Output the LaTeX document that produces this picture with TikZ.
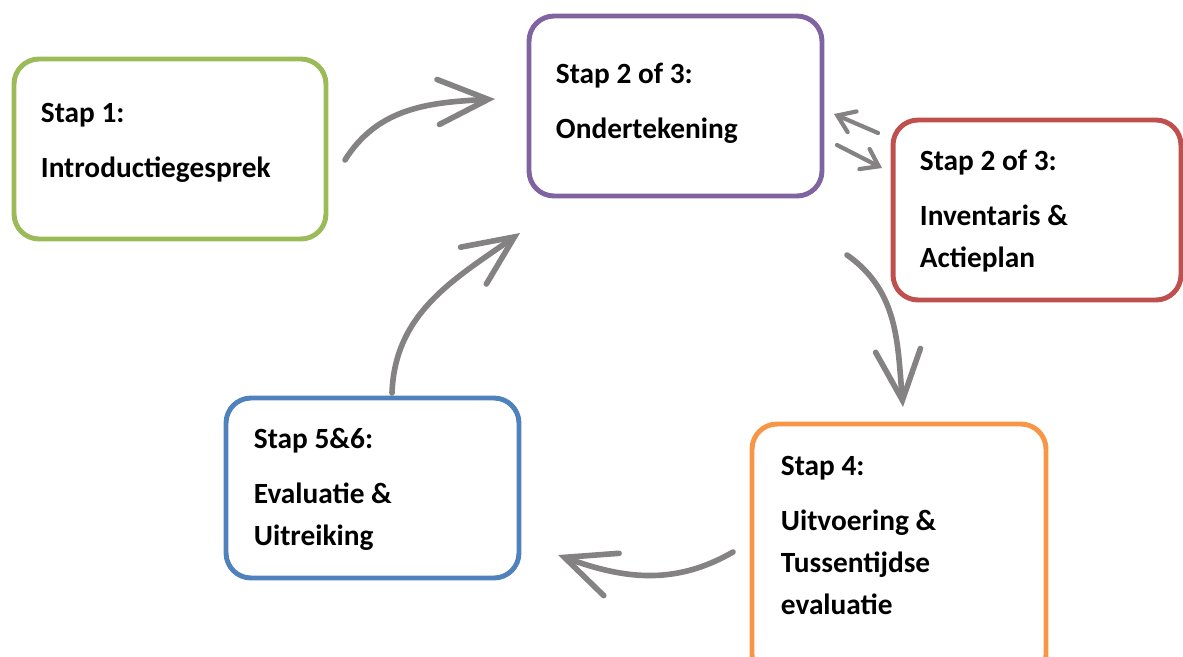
\documentclass[tikz,border=0pt]{standalone}
\usepackage{fontspec}
\setmainfont{Carlito}
\usetikzlibrary{arrows.meta,positioning}
\definecolor{stapgreen}{HTML}{9BBB59}
\definecolor{stappurple}{HTML}{8064A2}
\definecolor{stapred}{HTML}{C0504D}
\definecolor{staporange}{HTML}{F79646}
\definecolor{stapblue}{HTML}{4F81BD}
\definecolor{pijl}{RGB}{132,130,130}

\begin{document}
\begin{tikzpicture}
  [x=0.02cm, y=-0.02cm,
   box/.style={draw=#1, line width=2.8pt, rounded corners=0.5cm,
     minimum height=3.6cm, inner sep=0pt},
   stap/.style={anchor=north west, inner sep=0pt, align=left,
     font=\bfseries\fontsize{16.7}{23.9}\selectfont},
   bigpijl/.style={draw=pijl, line width=3.2pt, line cap=round,
     -{Straight Barb[length=1cm, width=0.9cm, line cap=round]}},
   smallpijl/.style={draw=pijl, line width=2.4pt, line cap=round,
     -{Straight Barb[length=0.32cm, width=0.45cm, line cap=round]}}]
  \clip (0,0) rectangle (1183,656);

  \node[box=stapgreen, minimum width=6.24cm] (s1) at (170,149) {};
  \node[box=stappurple, minimum width=5.86cm] (s2) at (675.5,106) {};
  \node[box=stapred, minimum width=5.76cm] (s3) at (1037,210) {};
  \node[box=staporange, minimum width=5.88cm, minimum height=5.12cm] (s4) at (899,552) {};
  \node[box=stapblue, minimum width=5.86cm] (s5) at (372.5,488) {};

  \node[stap, below right=0.92cm and 0.58cm of s1.north west] (t1)
    {Stap 1:\\[0.26cm]Introductiegesprek};
  \node[stap, below right=0.98cm and 0.58cm of s2.north west] (t2)
    {Stap 2 of 3:\\[0.26cm]Ondertekening};
  \node[stap, below right=0.64cm and 0.58cm of s3.north west] (t3)
    {Stap 2 of 3:\\[0.26cm]Inventaris \&\\Actieplan};
  \node[stap, below right=0.68cm and 0.62cm of s4.north west] (t4)
    {Stap 4:\\[0.26cm]Uitvoering \&\\Tussentijdse\\evaluatie};
  \node[stap, below right=0.64cm and 0.6cm of s5.north west] (t5)
    {Stap 5\&6:\\[0.26cm]Evaluatie \&\\Uitreiking};

  \coordinate (p1a) at (345,160);
  \coordinate (p1b) at (495,99);
  \coordinate (p2a) at (878,133);
  \coordinate (p2b) at (834,114);
  \coordinate (p3a) at (837,145);
  \coordinate (p3b) at (882,168);
  \coordinate (p4a) at (847,255);
  \coordinate (p4b) at (903,407);
  \coordinate (p5a) at (733,552);
  \coordinate (p5b) at (558,555);
  \coordinate (p6a) at (392,393);
  \coordinate (p6b) at (520,233);

  \draw[bigpijl] (p1a) to[out=58, in=183] (p1b);
  \draw[smallpijl] (p2a) -- (p2b);
  \draw[smallpijl] (p3a) -- (p3b);
  \draw[bigpijl] (p4a) to[out=-35, in=95] (p4b);
  \draw[bigpijl] (p5a) to[out=210, in=-20] (p5b);
  \draw[bigpijl] (p6a) to[out=88, in=215] (p6b);
\end{tikzpicture}
\end{document}
